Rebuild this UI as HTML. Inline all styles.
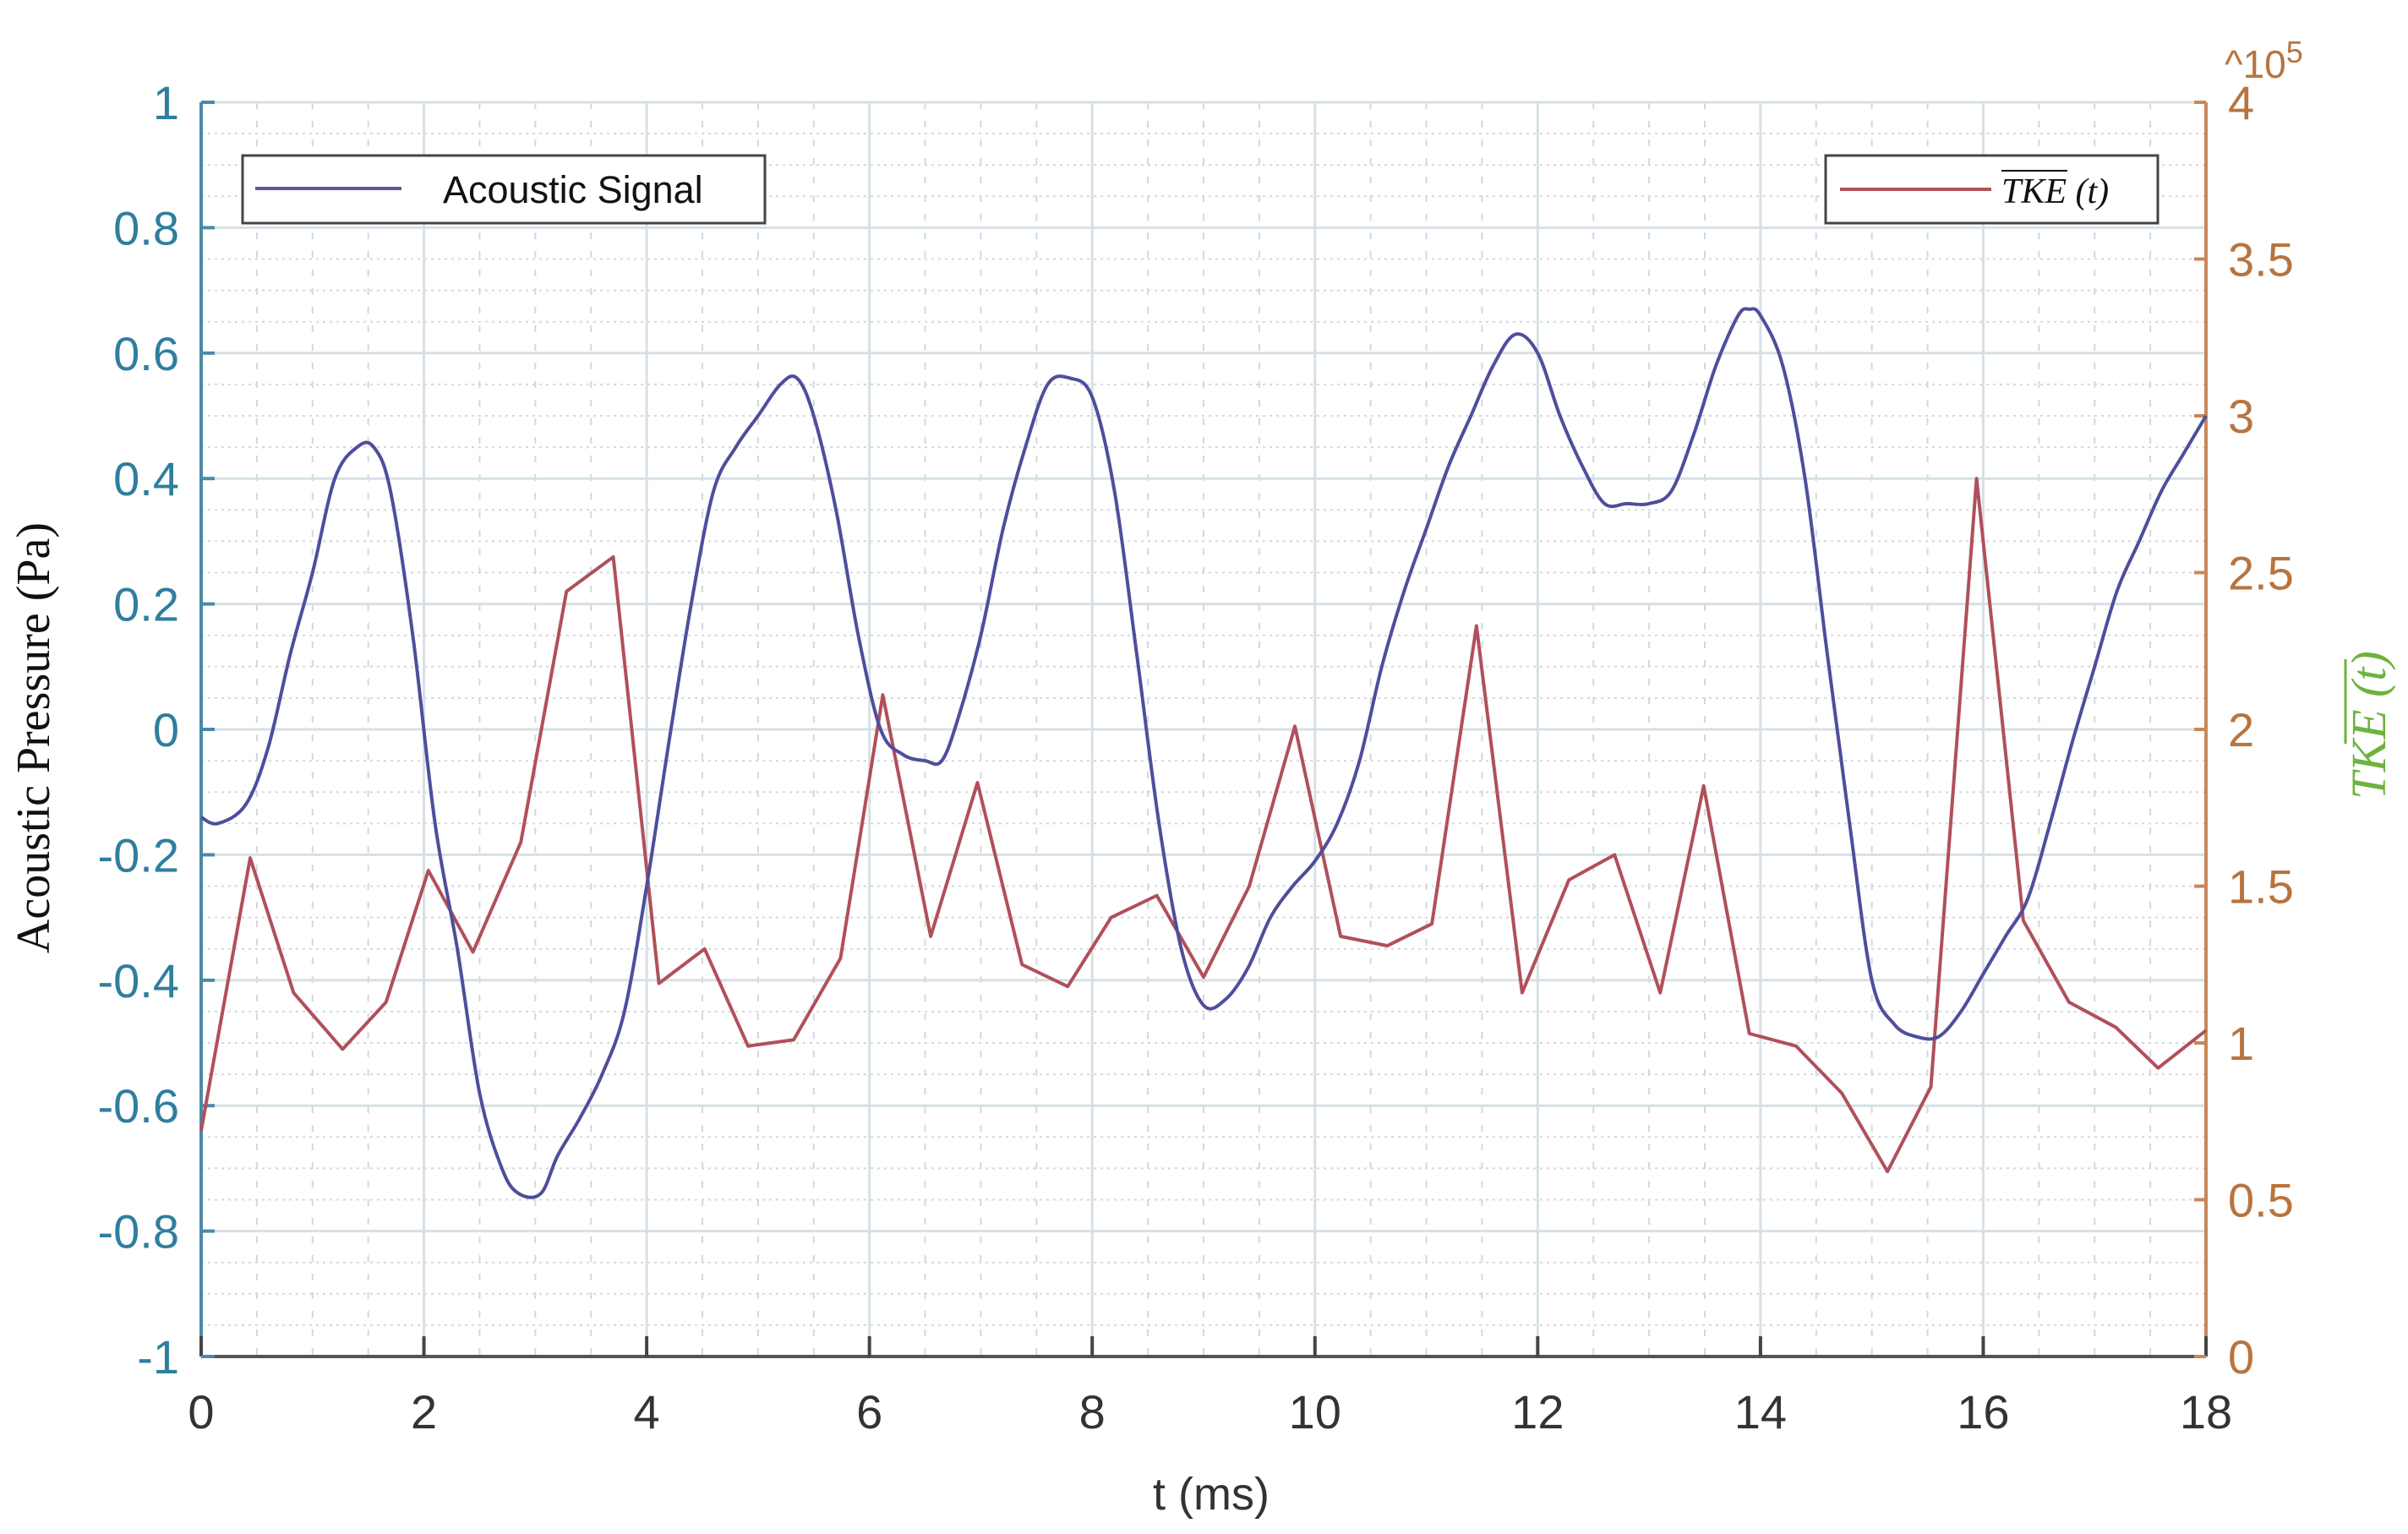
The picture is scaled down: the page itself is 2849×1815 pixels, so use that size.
<!DOCTYPE html>
<html><head><meta charset="utf-8"><style>
html,body{margin:0;padding:0;background:#fff;}
svg{display:block;}
</style></head><body>
<svg id="chart" width="2849" height="1815" viewBox="0 0 2849 1815" xmlns="http://www.w3.org/2000/svg" font-family="Liberation Sans, sans-serif">
<g id="grid"></g>
<g id="axes"></g>
<g id="series"></g>
<g id="legend-left">
  <rect x="287" y="184" width="618" height="80" fill="#fff" stroke="#444" stroke-width="3"/>
  <line x1="302" y1="223" x2="475" y2="223" stroke="#5a5a9e" stroke-width="4"/>
  <text x="524" y="240" font-size="45" fill="#111" font-family="Liberation Sans, sans-serif">Acoustic Signal</text>
</g>
<g id="legend-right">
  <rect x="2160" y="184" width="393" height="80" fill="#fff" stroke="#444" stroke-width="3"/>
  <line x1="2177" y1="224" x2="2356" y2="224" stroke="#b0505a" stroke-width="4"/>
  <text x="2368" y="240" font-size="42" fill="#111" font-style="italic" font-family="Liberation Serif, serif">TKE (t)</text>
  <line x1="2368" y1="202" x2="2446" y2="202" stroke="#111" stroke-width="2"/>
</g>
<text x="1433" y="1786" font-size="54" fill="#333" text-anchor="middle">t (ms)</text>
<text transform="translate(58,873) rotate(-90)" font-size="56" fill="#111" text-anchor="middle" font-family="Liberation Serif, serif">Acoustic Pressure (Pa)</text>
<g>
  <text transform="translate(2822,858) rotate(-90)" font-size="58" fill="#6db33f" text-anchor="middle" font-style="italic" font-family="Liberation Serif, serif">TKE (t)</text>
  <line x1="2775" y1="780" x2="2775" y2="880" stroke="#6db33f" stroke-width="3"/>
</g>
<text x="2632" y="92" font-size="46" fill="#b8743e">^10<tspan dy="-18" font-size="36">5</tspan></text>
</svg>
<script>
const tAcoustic=[0,0.15,0.4,0.6,0.8,1.0,1.2,1.4,1.55,1.7,1.9,2.1,2.3,2.5,2.7,2.85,3.05,3.2,3.4,3.6,3.8,4.0,4.2,4.4,4.6,4.8,5.0,5.2,5.35,5.5,5.7,5.9,6.1,6.3,6.5,6.65,6.8,7.0,7.2,7.4,7.6,7.8,8.0,8.2,8.4,8.6,8.8,9.0,9.2,9.4,9.6,9.8,10.0,10.2,10.4,10.6,10.8,11.0,11.2,11.4,11.6,11.8,12.0,12.2,12.4,12.6,12.8,13.0,13.2,13.4,13.6,13.8,13.9,14.0,14.2,14.4,14.6,14.8,15.0,15.2,15.4,15.6,15.8,16.0,16.2,16.4,16.6,16.8,17.0,17.2,17.4,17.6,17.8,18.0];
const pressure=[-0.14,-0.15,-0.12,-0.03,0.12,0.25,0.4,0.45,0.45,0.38,0.15,-0.15,-0.35,-0.58,-0.7,-0.74,-0.74,-0.68,-0.62,-0.55,-0.45,-0.25,-0.02,0.2,0.38,0.45,0.5,0.55,0.56,0.5,0.35,0.15,0.0,-0.04,-0.05,-0.05,0.02,0.15,0.32,0.45,0.55,0.56,0.53,0.38,0.12,-0.15,-0.35,-0.44,-0.43,-0.38,-0.3,-0.25,-0.21,-0.15,-0.05,0.1,0.22,0.32,0.42,0.5,0.58,0.63,0.6,0.5,0.42,0.36,0.36,0.36,0.38,0.47,0.58,0.66,0.67,0.66,0.58,0.4,0.12,-0.15,-0.4,-0.47,-0.49,-0.49,-0.45,-0.39,-0.33,-0.27,-0.15,-0.02,0.1,0.22,0.3,0.38,0.44,0.5];
const tTke=[0,0.44,0.83,1.27,1.66,2.04,2.44,2.87,3.28,3.7,4.11,4.52,4.91,5.32,5.74,6.12,6.55,6.97,7.37,7.78,8.17,8.58,9.0,9.41,9.82,10.23,10.65,11.05,11.45,11.86,12.28,12.69,13.1,13.49,13.9,14.32,14.73,15.14,15.53,15.94,16.36,16.77,17.19,17.57,18.0];
const tke=[0.72,1.59,1.16,0.98,1.13,1.55,1.29,1.64,2.44,2.55,1.19,1.30,0.99,1.01,1.27,2.11,1.34,1.83,1.25,1.18,1.40,1.47,1.21,1.50,2.01,1.34,1.31,1.38,2.33,1.16,1.52,1.60,1.16,1.82,1.03,0.99,0.84,0.59,0.86,2.80,1.39,1.13,1.05,0.92,1.04];
const xTicks=[0,2,4,6,8,10,12,14,16,18];
const yLeftTicks=[-1,-0.8,-0.6,-0.4,-0.2,0,0.2,0.4,0.6,0.8,1];
const yLeftLabels=["-1","-0.8","-0.6","-0.4","-0.2","0","0.2","0.4","0.6","0.8","1"];
const yRightTicks=[0,0.5,1,1.5,2,2.5,3,3.5,4];
const yRightLabels=["0","0.5","1","1.5","2","2.5","3","3.5","4"];

const L=238,R=2610,T=121,B=1605;
const NS="http://www.w3.org/2000/svg";
const X=t=>L+(t/18)*(R-L);
const YL=v=>B-((v+1)/2)*(B-T);
const YR=v=>B-(v/4)*(B-T);
function mk(tag,attrs,parent){const e=document.createElementNS(NS,tag);for(const k in attrs)e.setAttribute(k,attrs[k]);parent.appendChild(e);return e;}
const grid=document.getElementById('grid'),axes=document.getElementById('axes'),series=document.getElementById('series');

for(let t=0;t<=18.001;t+=0.5){if(Math.abs(t/2-Math.round(t/2))<1e-6)continue;
  const e=mk('line',{x1:X(t),x2:X(t),y1:T,y2:B,stroke:'#d4d8dc','stroke-width':2,'stroke-dasharray':'8 14'},grid);
  
  }
for(let v=-1;v<=1.001;v+=0.05){if(Math.abs(v/0.2-Math.round(v/0.2))<1e-6)continue;
  const e=mk('line',{x1:L,x2:R,y1:YL(v),y2:YL(v),stroke:'#d4d8dc','stroke-width':2,'stroke-dasharray':'3 5'},grid);
  
  }
xTicks.forEach(t=>{const e=mk('line',{x1:X(t),x2:X(t),y1:T,y2:B,stroke:'#d6e0e6','stroke-width':3},grid);
  
  });
yLeftTicks.forEach(v=>{const e=mk('line',{x1:L,x2:R,y1:YL(v),y2:YL(v),stroke:'#d6e0e6','stroke-width':3},grid);
  
  });

let a=mk('line',{x1:L,x2:L,y1:T,y2:B,stroke:'#4a8aa8','stroke-width':4},axes);


a=mk('line',{x1:L,x2:R,y1:B,y2:B,stroke:'#555','stroke-width':4},axes);


a=mk('line',{x1:R,x2:R,y1:T,y2:B,stroke:'#c8875a','stroke-width':4},axes);



xTicks.forEach(t=>{
  mk('line',{x1:X(t),x2:X(t),y1:B,y2:B-24,stroke:'#444','stroke-width':4},axes);
  const e=mk('text',{x:X(t),y:1690,'font-size':56,fill:'#333','text-anchor':'middle'},axes);
  e.textContent=t;
  
  
});
yLeftTicks.forEach((v,i)=>{
  mk('line',{x1:L,x2:L+16,y1:YL(v),y2:YL(v),stroke:'#4a8aa8','stroke-width':4},axes);
  const e=mk('text',{x:212,y:YL(v)+20,'font-size':56,fill:'#2f7e9e','text-anchor':'end'},axes);
  e.textContent=yLeftLabels[i];
  
  
});
yRightTicks.forEach((v,i)=>{
  mk('line',{x1:R,x2:R-14,y1:YR(v),y2:YR(v),stroke:'#c8875a','stroke-width':4},axes);
  const e=mk('text',{x:2636,y:YR(v)+20,'font-size':56,fill:'#b8743e','text-anchor':'start'},axes);
  e.textContent=yRightLabels[i];
  
  
});

function smoothPath(pts){
  let d='M'+pts[0][0]+','+pts[0][1];
  for(let i=0;i<pts.length-1;i++){
    const p0=pts[i-1]||pts[i],p1=pts[i],p2=pts[i+1],p3=pts[i+2]||p2;
    const c1x=p1[0]+(p2[0]-p0[0])/6,c1y=p1[1]+(p2[1]-p0[1])/6;
    const c2x=p2[0]-(p3[0]-p1[0])/6,c2y=p2[1]-(p3[1]-p1[1])/6;
    d+=' C'+c1x+','+c1y+' '+c2x+','+c2y+' '+p2[0]+','+p2[1];
  }
  return d;
}
let p=mk('polyline',{points:tTke.map((t,i)=>X(t)+','+YR(tke[i])).join(' '),fill:'none',stroke:'#b0505a','stroke-width':4,'stroke-linejoin':'round'},series);


p=mk('path',{d:smoothPath(tAcoustic.map((t,i)=>[X(t),YL(pressure[i])])),fill:'none',stroke:'#4e4e9c','stroke-width':4,'stroke-linejoin':'round'},series);


</script>
</body></html>
